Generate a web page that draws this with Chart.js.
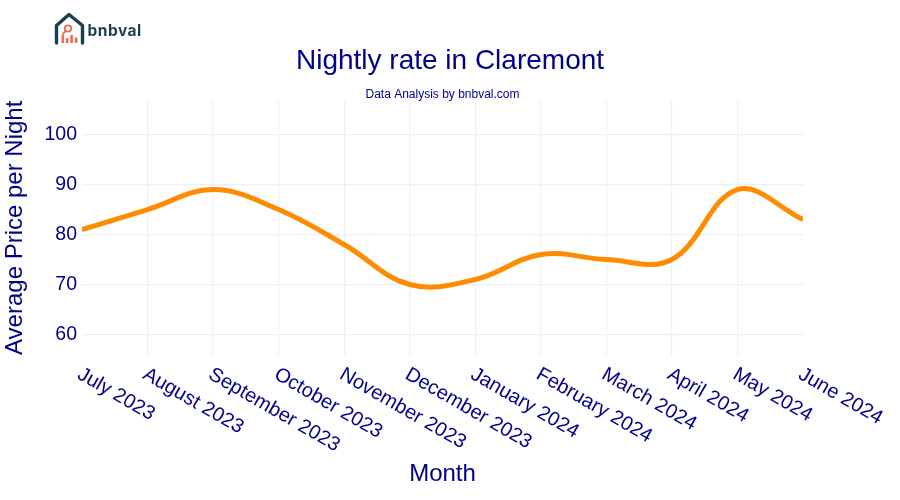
<!DOCTYPE html>
<html>
<head>
<meta charset="utf-8">
<title>Nightly rate in Claremont</title>
<script src="https://cdn.jsdelivr.net/npm/chart.js@4/dist/chart.umd.min.js"></script>
<style>
  html, body { margin: 0; padding: 0; background: #fff; }
  #wrap { position: relative; width: 900px; height: 500px; }
  #logo { position: absolute; left: 0; top: 0; }
</style>
</head>
<body>
<div id="wrap">
  <canvas id="chart" width="900" height="500"></canvas>
  <svg id="logo" width="160" height="50" viewBox="0 0 160 50">
    <path d="M56.5 43 V25.5 L69 14.5 L82.5 25.5 V43" fill="none" stroke="#1c3f4e" stroke-width="3.4" stroke-linejoin="round" stroke-linecap="round"/>
    <circle cx="68" cy="28.5" r="3.2" fill="none" stroke="#ee6a50" stroke-width="1.8"/>
    <path d="M65.8 31 L62.5 34" stroke="#ee6a50" stroke-width="1.8"/>
    <g fill="#ee6a50">
      <rect x="61.5" y="34.5" width="2.6" height="8.5"/>
      <rect x="65.8" y="38" width="2.6" height="5"/>
      <rect x="70.3" y="35" width="2.6" height="8"/>
      <rect x="74.8" y="37.5" width="2.6" height="5.5"/>
    </g>
    <text x="87.5" y="36" font-family="Inter, sans-serif" font-weight="700" font-size="15.5" letter-spacing="0.5" fill="#1c3f4e">bnbval</text>
  </svg>
</div>
<script>
const months = ['July 2023', 'August 2023', 'September 2023', 'October 2023', 'November 2023', 'December 2023',
  'January 2024', 'February 2024', 'March 2024', 'April 2024', 'May 2024', 'June 2024'];
const prices = [81, 85, 89, 85, 78, 70, 71, 76, 75, 75, 89, 83];
const yTicks = [60, 70, 80, 90, 100];

const navy = '#00008b';
const gridColor = '#ebf0f8';
const fontName = '"Liberation Sans", Arial, sans-serif';

// Chart.js right-aligns rotated x labels, the reference starts them at the tick
const slantedLabels = {
  id: 'slantedLabels',
  afterDraw(chart) {
    const { ctx, scales: { x } } = chart;
    ctx.save();
    ctx.fillStyle = navy;
    ctx.font = '20px ' + fontName;
    ctx.textAlign = 'left';
    ctx.textBaseline = 'middle';
    months.forEach((label, i) => {
      ctx.save();
      ctx.translate(x.getPixelForTick(i) - 3, x.top + 18);
      ctx.rotate(30 * Math.PI / 180);
      ctx.fillText(label, 0, 0);
      ctx.restore();
    });
    ctx.restore();
  }
};

new Chart(document.getElementById('chart'), {
  type: 'line',
  data: {
    labels: months,
    datasets: [{
      data: prices,
      borderColor: '#ff8c00',
      borderWidth: 5,
      tension: 0.38,
      pointRadius: 0,
      fill: false,
      clip: 0
    }]
  },
  options: {
    responsive: false,
    animation: false,
    plugins: {
      legend: { display: false },
      tooltip: { enabled: false },
      title: {
        display: true,
        text: 'Nightly rate in Claremont',
        color: navy,
        font: { family: fontName, size: 28, weight: 'normal', lineHeight: 1.2 },
        padding: { top: 44, bottom: 11 }
      },
      subtitle: {
        display: true,
        fullSize: false,
        text: 'Data Analysis by bnbval.com',
        color: navy,
        font: { family: fontName, size: 12, weight: 'normal', lineHeight: 1 },
        padding: { top: 0, bottom: 0 }
      }
    },
    scales: {
      x: {
        grid: {
          color: ctx => (ctx.index === 0 || ctx.index === months.length - 1) ? 'transparent' : gridColor,
          lineWidth: 1.2,
          drawTicks: false
        },
        border: { display: false },
        ticks: { display: false },
        title: {
          display: true,
          text: 'Month',
          color: navy,
          font: { family: fontName, size: 24, weight: 'normal' },
          padding: { top: 0, bottom: 11 }
        },
        afterFit(axis) {
          axis.height = 145;
          axis.paddingRight = 97;
        }
      },
      y: {
        min: 55.9,
        max: 106.8,
        afterBuildTicks(axis) {
          axis.ticks = yTicks.map(v => ({ value: v }));
        },
        grid: { color: gridColor, lineWidth: 1.2, drawTicks: false },
        border: { display: false },
        ticks: {
          color: navy,
          padding: 5,
          font: { family: fontName, size: 19.5 }
        },
        title: {
          display: true,
          text: 'Average Price per Night',
          color: navy,
          font: { family: fontName, size: 24, weight: 'normal' },
          padding: { top: 1, bottom: 0 }
        },
        afterFit(axis) {
          axis.width = 82;
        }
      }
    }
  },
  plugins: [slantedLabels]
});
</script>
</body>
</html>
